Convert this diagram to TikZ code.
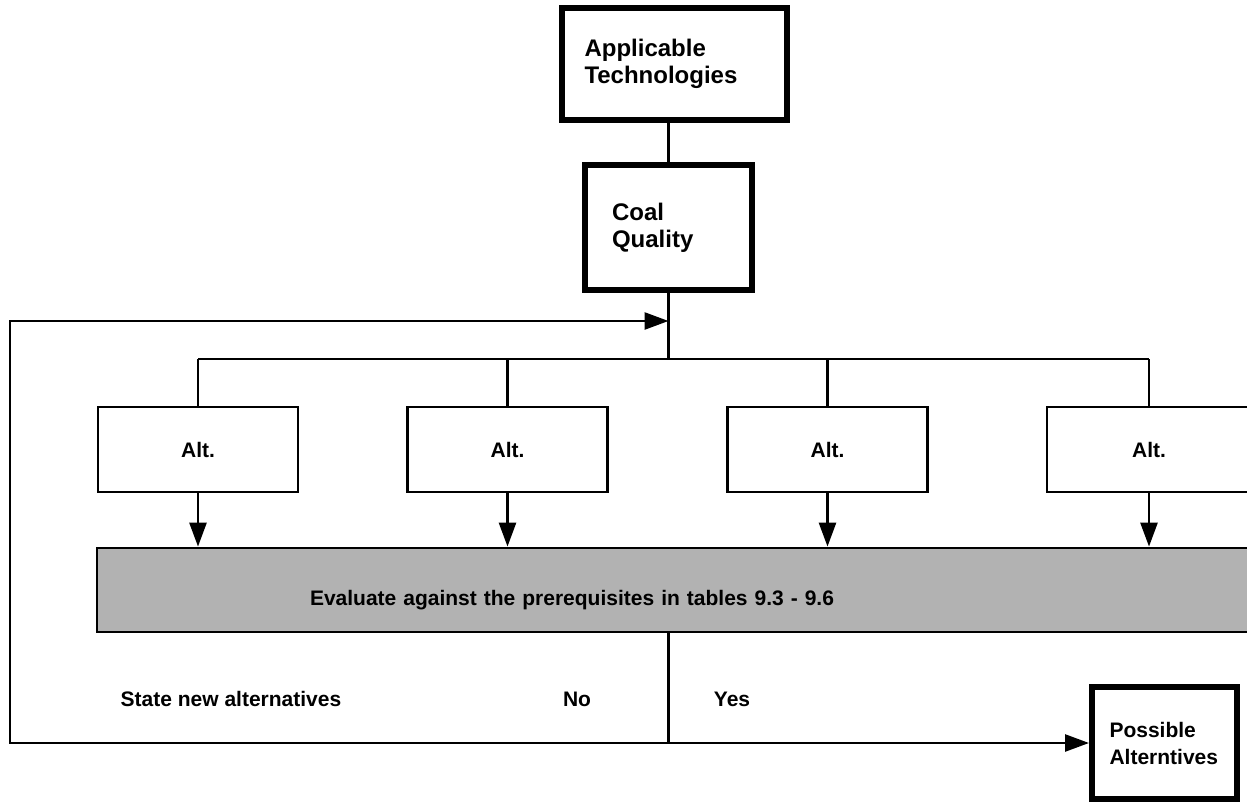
\documentclass[tikz,border=0pt]{standalone}
\usepackage{fontspec}
\setmainfont{Liberation Sans}
\usetikzlibrary{arrows.meta}

\begin{document}
\begin{tikzpicture}[x=1pt,y=-1pt]
\tikzset{txt/.style = {font=\fontsize{21}{27}\selectfont\bfseries, inner sep=0pt}}
\tikzset{bigbox/.style = {txt, draw, line width=6pt, align=left}}
\tikzset{altbox/.style = {txt, draw, line width=2.8pt, minimum width=200pt, minimum height=85pt}}
\tikzset{line/.style = {line width=2.6pt}}
\tikzset{edge/.style = {line, -{Triangle[length=24pt,width=17pt]}}}
\useasboundingbox (0,0) rectangle (1247,802);

% boxes
\node[bigbox, font=\fontsize{24}{27}\selectfont\bfseries, text width=180pt, inner xsep=22.5pt, minimum height=112pt] (tech) at (674.5,64) {Applicable\\Technologies};
\node[bigbox, font=\fontsize{24}{27}\selectfont\bfseries, text width=113pt, inner xsep=27pt, minimum height=125pt] (coal) at (668.5,227.5) {Coal\\Quality};
\node[altbox] (a1) at (198,449.5) {Alt.};
\node[altbox] (a2) at (507.5,449.5) {Alt.};
\node[altbox] (a3) at (827.5,449.5) {Alt.};
\node[altbox, minimum width=204pt] (a4) at (1149,449.5) {Alt.};
\node[txt, draw, line width=2.8pt, fill=black!30, minimum width=1190pt, minimum height=84pt,
      text width=764pt, inner xsep=213pt, text height=34pt, text depth=4pt, align=left] (eval) at (692,590)
      {Evaluate against the prerequisites in tables 9.3 - 9.6};
\node[bigbox, text width=110pt, inner xsep=17.5pt, minimum height=112pt] (poss) at (1164.5,743) {Possible\\Alterntives};

% labels
\node[txt] (snew) at (231,699) {State new alternatives};
\node[txt] (no) at (577,699) {No};
\node[txt] (yes) at (732,699) {Yes};

% junctions
\coordinate (split) at (668.5,359);
\coordinate (loop) at (668.5,321);
\coordinate (join) at (668.5,743);
\coordinate (c1) at (10,743);
\coordinate (c2) at (10,321);

% edges
\draw[line] (coal.north |- tech.south) -- (coal);
\draw[line] (coal) -- (split);
\draw[line] (a1.north |- split) -- (a4.north |- split);
\foreach \i in {1,...,4}
  \draw[line] (a\i.north |- split) -- (a\i.north);
\foreach \i in {1,...,4}
  \draw[edge] (a\i.south) -- (a\i.south |- eval.north);
\draw[line] (split |- eval.south) -- (join);
\draw[edge] (join) -- (poss.west);
\draw[edge] (join) -- (c1) -- (c2) -- (loop);

\end{tikzpicture}
\end{document}
